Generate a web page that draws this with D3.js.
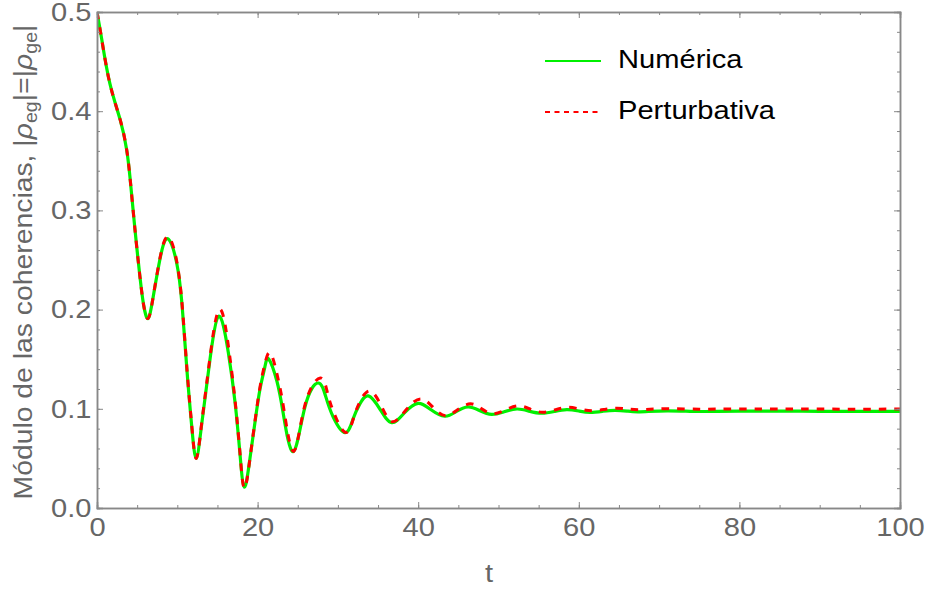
<!DOCTYPE html>
<html>
<head>
<meta charset="utf-8">
<script src="https://cdn.jsdelivr.net/npm/d3@7"></script>
<style>
  body { margin: 0; background: #fff; }
  text { font-family: "Liberation Sans", Arial, sans-serif; }
</style>
</head>
<body>
<script>
const W = 928, H = 591;
const margin = { left: 97, top: 12, right: 28, bottom: 83 };
const sx = 1.12; // glyphs in the reference are a bit wide

// numeric solution (green)
const numT = [0, 0.6, 1.6, 2.9, 3.7, 4.1, 4.5, 4.9, 5.35, 5.8, 6.35, 7.0, 8.0, 8.9, 9.9, 10.6, 11.2, 11.8, 12.35, 13.0,
  13.9, 15.1, 16.35, 17.2, 17.8, 18.35, 19.05, 19.7, 20.3, 20.9, 21.4, 22.4, 23.2, 24.45, 25.9, 27.55, 28.5, 29.4, 30.9,
  31.9, 32.75, 33.8, 35.25, 36.7, 38.3, 40.0, 41.6, 43.3, 44.7, 46.2, 47.7, 49.15, 50.7, 52.3, 53.8, 55.4, 57.0,
  58.5, 60.0, 61.4, 63.0, 64.5, 66.0, 67.6, 71.0, 75.0, 80.0, 90.0, 100];
const numV = [0.5, 0.472, 0.428, 0.391, 0.361, 0.334, 0.300, 0.267, 0.233, 0.205, 0.191, 0.213, 0.257, 0.271, 0.248,
  0.204, 0.139, 0.082, 0.050, 0.082, 0.139, 0.193, 0.157, 0.106, 0.055, 0.021, 0.050, 0.088, 0.120, 0.142, 0.150, 0.128,
  0.095, 0.057, 0.102, 0.126, 0.112, 0.092, 0.076, 0.090, 0.105, 0.113, 0.0995, 0.086, 0.096, 0.1055, 0.099,
  0.0925, 0.097, 0.102, 0.098, 0.0944, 0.097, 0.0998, 0.0977, 0.0955, 0.0974, 0.0992, 0.0978, 0.0964, 0.0975,
  0.0985, 0.0977, 0.0970, 0.0980, 0.0973, 0.0977, 0.0975, 0.0975];

// perturbative solution (red, dashed)
const pertT = [0, 0.6, 1.6, 2.9, 3.7, 4.1, 4.5, 4.9, 5.35, 5.8, 6.35, 7.0, 8.0, 8.95, 9.9, 10.6, 11.2, 11.8, 12.35, 13.0,
  13.9, 15.2, 16.4, 17.2, 17.8, 18.35, 19.05, 19.7, 20.3, 20.9, 21.6, 22.5, 23.3, 24.5, 25.9, 27.8, 28.7, 29.6, 31.0,
  32.0, 32.8, 34.0, 35.4, 36.8, 38.5, 40.3, 41.9, 43.4, 44.9, 46.5, 47.9, 49.3, 50.9, 52.5, 54.0, 55.5, 57.1,
  58.6, 60.1, 61.6, 63.2, 64.7, 66.2, 67.8, 71.0, 75.0, 80.0, 90.0, 100];
const pertV = [0.5, 0.472, 0.428, 0.391, 0.361, 0.334, 0.300, 0.267, 0.233, 0.205, 0.191, 0.213, 0.258, 0.273, 0.250,
  0.205, 0.140, 0.083, 0.050, 0.083, 0.141, 0.200, 0.161, 0.108, 0.056, 0.020, 0.050, 0.089, 0.122, 0.145, 0.156, 0.132,
  0.098, 0.057, 0.104, 0.131, 0.116, 0.094, 0.076, 0.092, 0.108, 0.118, 0.103, 0.087, 0.099, 0.110, 0.101,
  0.093, 0.099, 0.105, 0.100, 0.095, 0.099, 0.103, 0.0995, 0.0965, 0.099, 0.1015, 0.0998, 0.098, 0.0993,
  0.1005, 0.0997, 0.0992, 0.1001, 0.0996, 0.0999, 0.0997, 0.0997];

const xMajor = [0, 20, 40, 60, 80, 100];
const yMajor = [0, 0.1, 0.2, 0.3, 0.4, 0.5];
const xMinor = d3.range(0, 101, 5);
const yMinor = d3.range(0, 0.501, 0.02);

const legendNames = ['Numérica', 'Perturbativa'];
const seriesColors = ['#00f000', '#ff0000'];

const svg = d3.select('body').append('svg').attr('width', W).attr('height', H);

const x = d3.scaleLinear().domain([0, 100]).range([margin.left, W - margin.right]);
const y = d3.scaleLinear().domain([0, 0.5]).range([H - margin.bottom, margin.top]);

const line = d3.line().x(d => x(d[0])).y(d => y(d[1])).curve(d3.curveNatural);
const numData = numT.map((t, i) => [t, numV[i]]);
const pertData = pertT.map((t, i) => [t, pertV[i]]);

const plot = svg.append('g');
plot.append('clipPath').attr('id', 'clip').append('rect')
  .attr('x', x(0)).attr('y', y(0.5) - 4).attr('width', x(100) - x(0)).attr('height', y(0) - y(0.5) + 4);

plot.append('path').datum(numData).attr('d', line)
  .attr('fill', 'none').attr('stroke', seriesColors[0]).attr('stroke-width', 3.2)
  .attr('clip-path', 'url(#clip)');
plot.append('path').datum(pertData).attr('d', line)
  .attr('fill', 'none').attr('stroke', seriesColors[1]).attr('stroke-width', 3)
  .attr('stroke-dasharray', '7.5,8').attr('clip-path', 'url(#clip)');

// frame with inward ticks on all sides
const frameColor = '#888';
function styleAxis(g) {
  g.select('.domain').attr('stroke', frameColor).attr('stroke-width', 1.5);
  g.selectAll('.tick line').attr('stroke', frameColor).attr('stroke-width', 1);
  g.selectAll('.tick text').attr('fill', '#666').attr('font-size', 26)
    .attr('font-family', '"Liberation Sans", Arial, sans-serif');
}

// minor ticks
svg.append('g').attr('transform', `translate(0,${y(0)})`)
  .call(d3.axisBottom(x).tickValues(xMinor).tickSize(-3).tickFormat('')).call(styleAxis);
svg.append('g').attr('transform', `translate(0,${y(0.5)})`)
  .call(d3.axisTop(x).tickValues(xMinor).tickSize(-3).tickFormat('')).call(styleAxis);
svg.append('g').attr('transform', `translate(${x(0)},0)`)
  .call(d3.axisLeft(y).tickValues(yMinor).tickSize(-3).tickFormat('')).call(styleAxis);
svg.append('g').attr('transform', `translate(${x(100)},0)`)
  .call(d3.axisRight(y).tickValues(yMinor).tickSize(-3).tickFormat('')).call(styleAxis);

// major ticks
const xb = svg.append('g').attr('transform', `translate(0,${y(0)})`)
  .call(d3.axisBottom(x).tickValues(xMajor).tickSize(-6).tickPadding(10).tickFormat(d3.format('d')))
  .call(styleAxis);
xb.selectAll('.tick text').attr('transform', `scale(${sx},1)`);
svg.append('g').attr('transform', `translate(0,${y(0.5)})`)
  .call(d3.axisTop(x).tickValues(xMajor).tickSize(-6).tickFormat('')).call(styleAxis);
const yl = svg.append('g').attr('transform', `translate(${x(0)},0)`)
  .call(d3.axisLeft(y).tickValues(yMajor).tickSize(-6).tickPadding(5).tickFormat(d3.format('.1f')))
  .call(styleAxis);
yl.selectAll('.tick text').attr('transform', `scale(${sx},1)`);
svg.append('g').attr('transform', `translate(${x(100)},0)`)
  .call(d3.axisRight(y).tickValues(yMajor).tickSize(-6).tickFormat('')).call(styleAxis);

// axis titles
svg.append('text')
  .attr('transform', `translate(489,582) scale(${sx},1)`)
  .attr('text-anchor', 'middle').attr('font-size', 26).attr('fill', '#666')
  .text('t');

const yt = svg.append('text')
  .attr('transform', `translate(32,${(y(0) + y(0.5)) / 2 + 2}) rotate(-90) scale(1.09,1)`)
  .attr('text-anchor', 'middle').attr('font-size', 26).attr('fill', '#666');
yt.append('tspan').text('Módulo de las coherencias, |');
yt.append('tspan').attr('font-style', 'italic').text('ρ');
yt.append('tspan').attr('font-size', 18).attr('dy', 5).text('eg');
yt.append('tspan').attr('dy', -5).text('|=|');
yt.append('tspan').attr('font-style', 'italic').text('ρ');
yt.append('tspan').attr('font-size', 18).attr('dy', 5).text('ge');
yt.append('tspan').attr('dy', -5).text('|');

// legend
const legend = svg.append('g');
legendNames.forEach((name, i) => {
  const ly = 61 + i * 51;
  legend.append('line')
    .attr('x1', 545).attr('x2', 601).attr('y1', ly).attr('y2', ly)
    .attr('stroke', seriesColors[i]).attr('stroke-width', 2.2)
    .attr('stroke-dasharray', i === 1 ? '5,4.5' : null);
  legend.append('text')
    .attr('transform', `translate(618,${ly + 7}) scale(${sx},1)`)
    .attr('font-size', 26).attr('fill', '#000')
    .text(name);
});
</script>
</body>
</html>
